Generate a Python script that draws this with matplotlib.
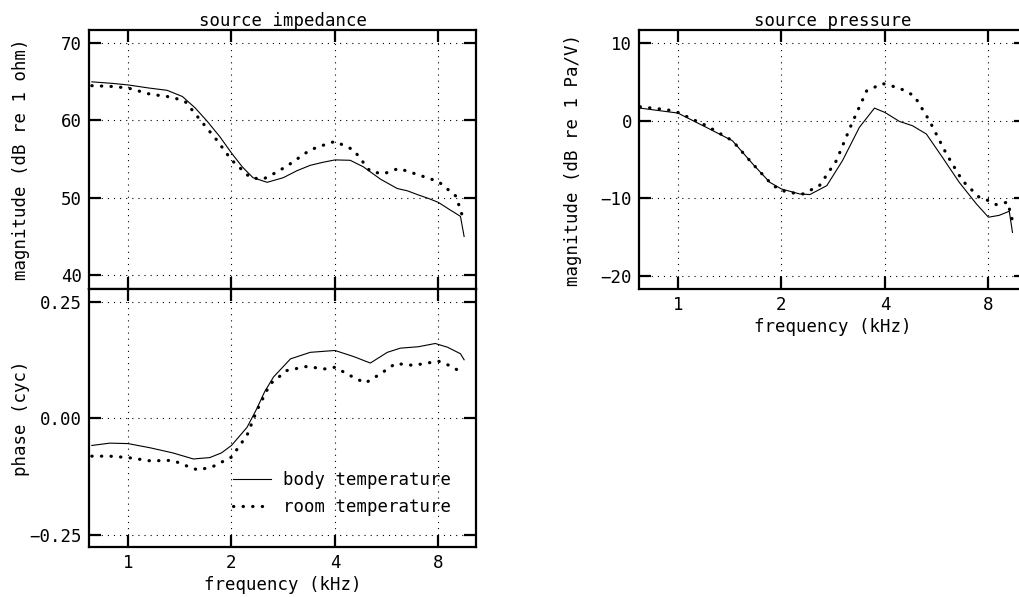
import matplotlib
matplotlib.use("Agg")
import matplotlib.pyplot as plt
from matplotlib.ticker import FixedLocator, NullLocator, FuncFormatter

# frequencies in kHz, values read per curve
freq_imp_body = [0.785, 0.9, 1.0, 1.15, 1.30, 1.44, 1.57, 1.70, 1.85, 2.0, 2.15, 2.31, 2.54,
                 2.83, 3.1, 3.39, 3.7, 4.0, 4.43, 4.84, 5.43, 6.07, 6.5, 6.96, 7.5, 8.0,
                 8.6, 9.27, 9.5]
imp_body = [65.0, 64.8, 64.6, 64.2, 63.9, 63.1, 61.6, 59.9, 57.9, 55.8, 54.0, 52.6, 52.0,
            52.6, 53.5, 54.2, 54.6, 54.9, 54.85, 54.0, 52.4, 51.2, 50.9, 50.4, 49.9, 49.4,
            48.5, 47.6, 45.0]

freq_imp_room = [0.785, 0.9, 1.0, 1.16, 1.35, 1.47, 1.62, 1.81, 2.0, 2.27, 2.47, 2.65, 2.90,
                 3.39, 3.7, 4.0, 4.53, 5.07, 5.54, 6.13, 6.96, 8.0, 9.0, 9.4]
imp_room = [64.5, 64.4, 64.2, 63.4, 63.0, 62.4, 60.1, 57.5, 54.9, 52.6, 52.4, 53.1, 54.1,
            56.2, 56.8, 57.3, 56.2, 53.4, 53.1, 53.8, 53.0, 52.1, 50.2, 47.6]

freq_ph_body = [0.785, 0.886, 1.0, 1.16, 1.35, 1.55, 1.73, 1.87, 2.0, 2.22, 2.37, 2.5, 2.65,
                2.97, 3.39, 4.0, 4.53, 5.07, 5.68, 6.2, 6.99, 7.83, 8.5, 9.27, 9.5]
ph_body = [-0.058, -0.053, -0.054, -0.063, -0.074, -0.087, -0.084, -0.074, -0.058, -0.019,
           0.021, 0.058, 0.089, 0.128, 0.142, 0.146, 0.133, 0.119, 0.142, 0.151, 0.154,
           0.161, 0.153, 0.139, 0.126]

freq_ph_room = [0.785, 0.886, 1.0, 1.16, 1.35, 1.47, 1.6, 1.77, 2.0, 2.22, 2.37, 2.59, 2.90,
                3.33, 3.70, 4.0, 4.43, 4.9, 5.43, 6.0, 6.77, 8.0, 8.8, 9.4]
ph_room = [-0.081, -0.081, -0.084, -0.091, -0.090, -0.101, -0.111, -0.103, -0.083, -0.036,
           0.017, 0.074, 0.103, 0.112, 0.106, 0.110, 0.092, 0.076, 0.096, 0.118, 0.114,
           0.123, 0.111, 0.096]

freq_pr_body = [0.776, 1.0, 1.21, 1.44, 1.65, 1.85, 2.0, 2.26, 2.42, 2.71, 3.01, 3.37, 3.73,
                4.0, 4.41, 4.81, 5.28, 5.88, 6.58, 7.38, 8.0, 8.6, 9.2, 9.4]
pr_body = [1.63, 0.99, -0.86, -2.57, -5.57, -7.94, -8.8, -9.44, -9.52, -8.37, -5.15, -0.86,
           1.63, 1.07, -0.09, -0.64, -1.71, -4.72, -7.94, -10.72, -12.44, -12.2, -11.67, -14.4]

freq_pr_room = [0.776, 0.93, 1.0, 1.21, 1.44, 1.65, 1.89, 2.07, 2.31, 2.58, 2.89, 3.2, 3.54,
                3.94, 4.41, 4.87, 5.39, 6.04, 6.72, 7.52, 8.0, 8.43, 9.1, 9.4]
pr_room = [1.80, 1.42, 1.07, -0.64, -2.57, -5.57, -8.37, -9.22, -9.44, -8.37, -5.15, -0.43,
           3.86, 4.80, 4.21, 3.22, 0.0, -4.29, -7.72, -9.87, -10.3, -10.81, -10.5, -12.9]

freq_ticks = [1, 2, 4, 8]
imp_ticks = [40, 50, 60, 70]
ph_ticks = [-0.25, 0.0, 0.25]
pr_ticks = [-20, -10, 0, 10]

FS = 12.5
plt.rcParams["font.family"] = "DejaVu Sans Mono"
plt.rcParams["font.size"] = FS
plt.rcParams["axes.unicode_minus"] = True

solid_kw = dict(color="black", lw=0.8)
dot_kw = dict(color="black", lw=2.3, linestyle=(0, (0.1, 2.9)), dash_capstyle="round")


def style_axes(ax, yticks, show_xlabels=True):
    ax.set_xscale("log")
    ax.set_xlim(0.77, 10.3)
    ax.xaxis.set_major_locator(FixedLocator(freq_ticks))
    ax.xaxis.set_minor_locator(NullLocator())
    ax.xaxis.set_major_formatter(FuncFormatter(lambda v, p: f"{v:g}"))
    ax.set_yticks(yticks)
    ax.tick_params(which="major", direction="in", length=8.7, width=1.6,
                   top=True, right=True, pad=5, labelsize=FS)
    if not show_xlabels:
        ax.tick_params(labelbottom=False)
    for s in ax.spines.values():
        s.set_linewidth(1.6)
    ax.grid(True, color="black", lw=0.8, linestyle=(0, (1, 4.5)))
    ax.set_axisbelow(True)


fig = plt.figure(figsize=(10.19, 5.97), dpi=100)
ax_imp = fig.add_axes([0.0873, 0.5159, 0.380, 0.4338])
ax_ph = fig.add_axes([0.0873, 0.0838, 0.380, 0.4321])
ax_pr = fig.add_axes([0.627, 0.5159, 0.380, 0.4338])

# source impedance magnitude
ax_imp.plot(freq_imp_body, imp_body, **solid_kw)
ax_imp.plot(freq_imp_room, imp_room, **dot_kw)
style_axes(ax_imp, imp_ticks, show_xlabels=False)
ax_imp.set_ylim(38.2, 71.7)
ax_imp.set_title("source impedance", pad=3, fontsize=FS)
ax_imp.set_ylabel("magnitude (dB re 1 ohm)")
ax_imp.yaxis.set_label_coords(-0.152, 0.5)

# source impedance phase
ax_ph.plot(freq_ph_body, ph_body, label="body temperature", **solid_kw)
ax_ph.plot(freq_ph_room, ph_room, label="room temperature", **dot_kw)
style_axes(ax_ph, ph_ticks)
ax_ph.set_ylim(-0.276, 0.278)
ax_ph.yaxis.set_major_formatter(FuncFormatter(lambda v, p: f"{v:.2f}".replace("-", "\u2212")))
ax_ph.set_ylabel("phase (cyc)")
ax_ph.yaxis.set_label_coords(-0.152, 0.5)
ax_ph.set_xlabel("frequency (kHz)", labelpad=3)
ax_ph.legend(loc="upper left", bbox_to_anchor=(0.372, 0.294), frameon=False,
             borderpad=0, borderaxespad=0, handlelength=2.2, handletextpad=0.7,
             labelspacing=0.52, fontsize=FS)

# source pressure magnitude
ax_pr.plot(freq_pr_body, pr_body, **solid_kw)
ax_pr.plot(freq_pr_room, pr_room, **dot_kw)
style_axes(ax_pr, pr_ticks)
ax_pr.set_ylim(-21.7, 11.7)
ax_pr.set_title("source pressure", pad=3, fontsize=FS)
ax_pr.set_ylabel("magnitude (dB re 1 Pa/V)")
ax_pr.yaxis.set_label_coords(-0.147, 0.5)
ax_pr.set_xlabel("frequency (kHz)", labelpad=3)

fig.savefig("out.png", dpi=100)
